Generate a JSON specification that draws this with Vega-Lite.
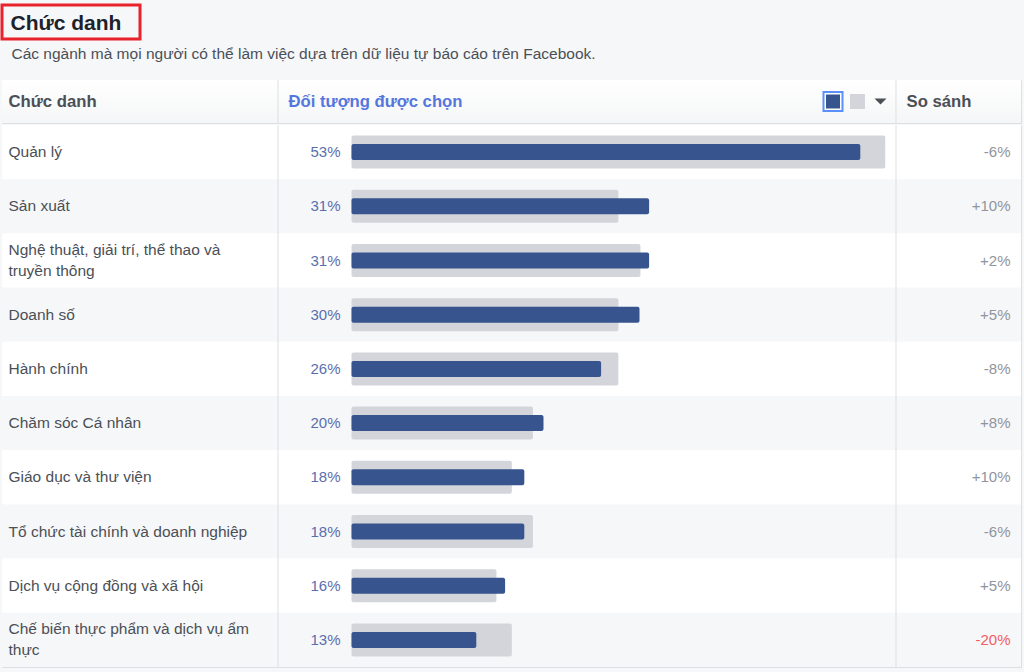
{
  "$schema": "https://vega.github.io/schema/vega-lite/v6.json",
  "background": "#f6f7f9",
  "padding": {"left": 0, "top": 3, "right": 3, "bottom": 6},
  "config": {
    "font": "Liberation Sans",
    "view": {"stroke": null},
    "axis": {"disable": true},
    "legend": {"disable": true}
  },
  "datasets": {
    "rows": [
      {"rank": 1, "chuc_danh": "Quản lý", "doi_tuong": 0.53, "so_sanh_nen": 0.556, "so_sanh": "-6%"},
      {"rank": 2, "chuc_danh": "Sản xuất", "doi_tuong": 0.31, "so_sanh_nen": 0.278, "so_sanh": "+10%"},
      {"rank": 3, "chuc_danh": "Nghệ thuật, giải trí, thể thao và\ntruyền thông", "doi_tuong": 0.31, "so_sanh_nen": 0.301, "so_sanh": "+2%"},
      {"rank": 4, "chuc_danh": "Doanh số", "doi_tuong": 0.30, "so_sanh_nen": 0.278, "so_sanh": "+5%"},
      {"rank": 5, "chuc_danh": "Hành chính", "doi_tuong": 0.26, "so_sanh_nen": 0.278, "so_sanh": "-8%"},
      {"rank": 6, "chuc_danh": "Chăm sóc Cá nhân", "doi_tuong": 0.20, "so_sanh_nen": 0.189, "so_sanh": "+8%"},
      {"rank": 7, "chuc_danh": "Giáo dục và thư viện", "doi_tuong": 0.18, "so_sanh_nen": 0.167, "so_sanh": "+10%"},
      {"rank": 8, "chuc_danh": "Tổ chức tài chính và doanh nghiệp", "doi_tuong": 0.18, "so_sanh_nen": 0.189, "so_sanh": "-6%"},
      {"rank": 9, "chuc_danh": "Dịch vụ cộng đồng và xã hội", "doi_tuong": 0.16, "so_sanh_nen": 0.151, "so_sanh": "+5%"},
      {"rank": 10, "chuc_danh": "Chế biến thực phẩm và dịch vụ ẩm\nthực", "doi_tuong": 0.13, "so_sanh_nen": 0.167, "so_sanh": "-20%"}
    ]
  },
  "spacing": 0,
  "vconcat": [
    {
      "spacing": 5,
      "vconcat": [
        {
          "width": 138,
          "height": 34,
          "view": {"stroke": "#e8232b", "strokeWidth": 3, "fill": null},
          "data": {"values": [{"tieu_de": "Chức danh"}]},
          "mark": {"type": "text", "align": "center", "baseline": "middle", "dx": -5, "dy": 2, "fontSize": 21, "fontWeight": "bold", "color": "#1d2129"},
          "encoding": {"text": {"field": "tieu_de"}}
        },
        {
          "width": 1019,
          "height": 43,
          "title": {
            "text": "Các ngành mà mọi người có thể làm việc dựa trên dữ liệu tự báo cáo trên Facebook.",
            "anchor": "start",
            "dx": 9.5,
            "fontSize": 15.5,
            "fontWeight": "normal",
            "color": "#4b4f56",
            "offset": 17
          },
          "view": {"stroke": "#dddfe2", "fill": null},
          "layer": [
            {
              "data": {"values": [{"nen": "header"}]},
              "mark": {"type": "rect", "fill": {"gradient": "linear", "x1": 0, "y1": 0, "x2": 0, "y2": 1, "stops": [{"offset": 0, "color": "#ffffff"}, {"offset": 1, "color": "#f5f6f7"}]}},
              "encoding": {}
            },
            {
              "data": {"values": [{"cot": "Chức danh"}]},
              "mark": {"type": "rule", "color": "#dddfe2", "strokeWidth": 1},
              "encoding": {"x": {"datum": -0.076563, "type": "quantitative", "scale": {"domain": [-0.3640625, 0.697396], "nice": false, "zero": false}}}
            },
            {
              "data": {"values": [{"cot": "So sánh"}]},
              "mark": {"type": "rule", "color": "#dddfe2", "strokeWidth": 1},
              "encoding": {"x": {"datum": 0.567188, "type": "quantitative"}}
            },
            {
              "data": {"values": [{"cot": "Chức danh"}]},
              "mark": {"type": "text", "align": "left", "baseline": "middle", "fontSize": 16.7, "fontWeight": "bold", "color": "#4b4f56"},
              "encoding": {"x": {"datum": -0.35729, "type": "quantitative"}, "text": {"field": "cot"}}
            },
            {
              "data": {"values": [{"cot": "Đối tượng được chọn"}]},
              "mark": {"type": "text", "align": "left", "baseline": "middle", "fontSize": 16.7, "fontWeight": "bold", "color": "#5577dd"},
              "encoding": {"x": {"datum": -0.065625, "type": "quantitative"}, "text": {"field": "cot"}}
            },
            {
              "data": {"values": [{"cot": "So sánh"}]},
              "mark": {"type": "text", "align": "left", "baseline": "middle", "fontSize": 16.7, "fontWeight": "bold", "color": "#4b4f56"},
              "encoding": {"x": {"datum": 0.578125, "type": "quantitative"}, "text": {"field": "cot"}}
            },
            {
              "data": {"values": [{"chu_giai": "Đối tượng được chọn"}]},
              "mark": {"type": "point", "shape": "square", "size": 361, "filled": true, "fill": "#ffffff", "stroke": "#5b8ff9", "strokeWidth": 2, "opacity": 1},
              "encoding": {"x": {"datum": 0.501563, "type": "quantitative"}}
            },
            {
              "data": {"values": [{"chu_giai": "Đối tượng được chọn"}]},
              "mark": {"type": "point", "shape": "square", "size": 196, "filled": true, "fill": "#37548f", "strokeWidth": 0, "opacity": 1},
              "encoding": {"x": {"datum": 0.501563, "type": "quantitative"}}
            },
            {
              "data": {"values": [{"chu_giai": "So sánh"}]},
              "mark": {"type": "point", "shape": "square", "size": 225, "filled": true, "fill": "#d3d5da", "strokeWidth": 0, "opacity": 1},
              "encoding": {"x": {"datum": 0.527083, "type": "quantitative"}}
            },
            {
              "data": {"values": [{"chu_giai": "menu"}]},
              "mark": {"type": "point", "shape": "M-1,-0.5L1,-0.5L0,0.5Z", "size": 144, "filled": true, "fill": "#4b4f56", "strokeWidth": 0, "opacity": 1, "dy": 1},
              "encoding": {"x": {"datum": 0.551042, "type": "quantitative"}}
            }
          ]
        }
      ]
    },
    {
      "width": 1019,
      "height": 542,
      "view": {"stroke": "#dddfe2", "fill": "#ffffff"},
      "data": {"name": "rows"},
      "encoding": {
        "y": {"field": "chuc_danh", "type": "nominal", "sort": null, "scale": {"paddingInner": 0, "paddingOuter": 0}}
      },
      "layer": [
        {
          "mark": {"type": "rect"},
          "encoding": {
            "fill": {"condition": {"test": "datum.rank % 2 == 0", "value": "#f6f7f9"}, "value": "#ffffff"}
          }
        },
        {
          "data": {"values": [{"cot": "Chức danh"}]},
          "mark": {"type": "rule", "color": "#dddfe2", "strokeWidth": 1},
          "encoding": {"y": null, "x": {"datum": -0.076563, "type": "quantitative", "scale": {"domain": [-0.3640625, 0.697396], "nice": false, "zero": false}}}
        },
        {
          "data": {"values": [{"cot": "So sánh"}]},
          "mark": {"type": "rule", "color": "#dddfe2", "strokeWidth": 1},
          "encoding": {"y": null, "x": {"datum": 0.567188, "type": "quantitative"}}
        },
        {
          "mark": {"type": "bar", "height": 33, "cornerRadius": 2, "fill": "#d3d5da"},
          "encoding": {"x": {"field": "so_sanh_nen", "type": "quantitative", "stack": null}}
        },
        {
          "mark": {"type": "bar", "height": 16, "cornerRadius": 2, "fill": "#37548f"},
          "encoding": {"x": {"field": "doi_tuong", "type": "quantitative", "stack": null}}
        },
        {
          "transform": [{"filter": "indexof(datum.chuc_danh, '\\n') < 0"}],
          "mark": {"type": "text", "align": "left", "baseline": "middle", "fontSize": 15.5, "color": "#4b4f56"},
          "encoding": {"x": {"datum": -0.35729, "type": "quantitative"}, "text": {"field": "chuc_danh"}}
        },
        {
          "transform": [{"filter": "indexof(datum.chuc_danh, '\\n') >= 0"}],
          "mark": {"type": "text", "align": "left", "baseline": "middle", "fontSize": 15.5, "lineHeight": 20.5, "lineBreak": "\n", "dy": -10.5, "color": "#4b4f56"},
          "encoding": {"x": {"datum": -0.35729, "type": "quantitative"}, "text": {"field": "chuc_danh"}}
        },
        {
          "mark": {"type": "text", "align": "right", "baseline": "middle", "fontSize": 15, "color": "#5a6fae"},
          "encoding": {"x": {"datum": -0.011458, "type": "quantitative"}, "text": {"field": "doi_tuong", "type": "quantitative", "format": ".0%"}}
        },
        {
          "mark": {"type": "text", "align": "right", "baseline": "middle", "fontSize": 15},
          "encoding": {
            "x": {"datum": 0.686458, "type": "quantitative"},
            "text": {"field": "so_sanh"},
            "color": {"condition": {"test": "toNumber(replace(datum.so_sanh, '%', '')) <= -20", "value": "#f25c62"}, "value": "#90949c"}
          }
        }
      ]
    }
  ]
}
